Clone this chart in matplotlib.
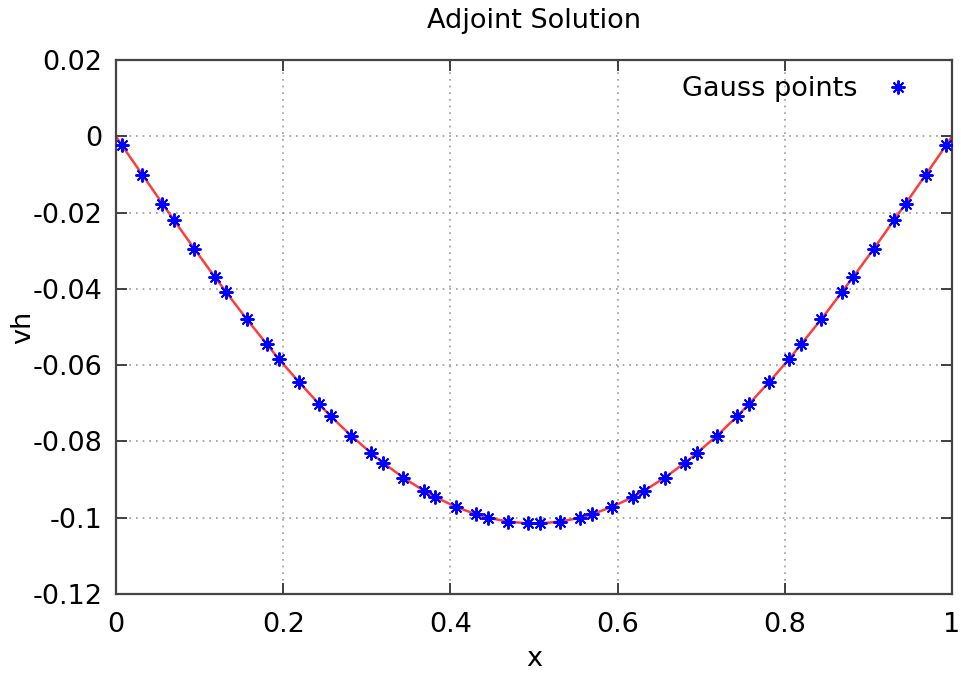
import matplotlib
matplotlib.use('Agg')
import matplotlib.pyplot as plt

# Gauss points (3 per element, 16 elements)
gauss_x = [0.0070, 0.0313, 0.0555, 0.0695, 0.0938, 0.1180,
           0.1320, 0.1563, 0.1805, 0.1945, 0.2188, 0.2430,
           0.2570, 0.2813, 0.3055, 0.3195, 0.3438, 0.3680,
           0.3820, 0.4063, 0.4305, 0.4445, 0.4688, 0.4930,
           0.5070, 0.5313, 0.5555, 0.5695, 0.5938, 0.6180,
           0.6320, 0.6563, 0.6805, 0.6945, 0.7188, 0.7430,
           0.7570, 0.7813, 0.8055, 0.8195, 0.8438, 0.8680,
           0.8820, 0.9063, 0.9305, 0.9445, 0.9688, 0.9930]
gauss_y = [-0.0023, -0.0100, -0.0176, -0.0220, -0.0295, -0.0368,
           -0.0409, -0.0479, -0.0545, -0.0583, -0.0644, -0.0702,
           -0.0734, -0.0785, -0.0831, -0.0856, -0.0895, -0.0929,
           -0.0946, -0.0971, -0.0991, -0.1000, -0.1010, -0.1015,
           -0.1015, -0.1010, -0.1000, -0.0991, -0.0971, -0.0946,
           -0.0929, -0.0895, -0.0856, -0.0831, -0.0785, -0.0734,
           -0.0702, -0.0644, -0.0583, -0.0545, -0.0479, -0.0409,
           -0.0368, -0.0295, -0.0220, -0.0176, -0.0100, -0.0023]

# boundary values of the solution curve
end_x = [0.0, 1.0]
end_y = [0.0, 0.0]

x_ticks = [0, 0.2, 0.4, 0.6, 0.8, 1]
x_tick_labels = ['0', '0.2', '0.4', '0.6', '0.8', '1']
y_ticks = [0.02, 0, -0.02, -0.04, -0.06, -0.08, -0.1, -0.12]
y_tick_labels = ['0.02', '0', '-0.02', '-0.04', '-0.06', '-0.08', '-0.1', '-0.12']

FS = 19.5
plt.rcParams['font.family'] = ['DejaVu Sans']

fig = plt.figure(figsize=(9.62, 6.74), dpi=100)
ax = fig.add_axes([0.1206, 0.1187, 0.869, 0.792])

line_x = [end_x[0]] + gauss_x + [end_x[1]]
line_y = [end_y[0]] + gauss_y + [end_y[1]]
ax.plot(line_x, line_y, color='#ff3c3c', lw=1.8, zorder=2)
ax.plot(gauss_x, gauss_y, linestyle='none', marker=(8, 2, 0), markersize=10,
        markeredgewidth=1.4, color='#0000ff', label='Gauss points', zorder=3)

ax.set_xlim(0, 1)
ax.set_ylim(-0.12, 0.02)
ax.set_xticks(x_ticks)
ax.set_xticklabels(x_tick_labels)
ax.set_yticks(y_ticks)
ax.set_yticklabels(y_tick_labels)

ax.tick_params(direction='in', length=8, width=1.3, top=True, right=True,
               labelsize=FS, colors='#333333', labelcolor='black')
ax.tick_params(axis='y', pad=10)
ax.tick_params(axis='x', pad=13)
ax.grid(True, linestyle=(0, (1, 3)), color='#999999', linewidth=1.2)
for s in ax.spines.values():
    s.set_linewidth(1.6)
    s.set_color('#444444')

ax.set_title('Adjoint Solution', fontsize=FS, pad=23)
ax.set_xlabel('x', fontsize=FS, labelpad=6)
ax.set_ylabel('vh', fontsize=FS, labelpad=-3)

ax.legend(loc='upper right', bbox_to_anchor=(0.9515, 0.970), frameon=False,
          markerfirst=False, fontsize=FS, handlelength=1.0, handletextpad=1.0,
          borderpad=0, borderaxespad=0)

plt.savefig('out.png', dpi=100)
